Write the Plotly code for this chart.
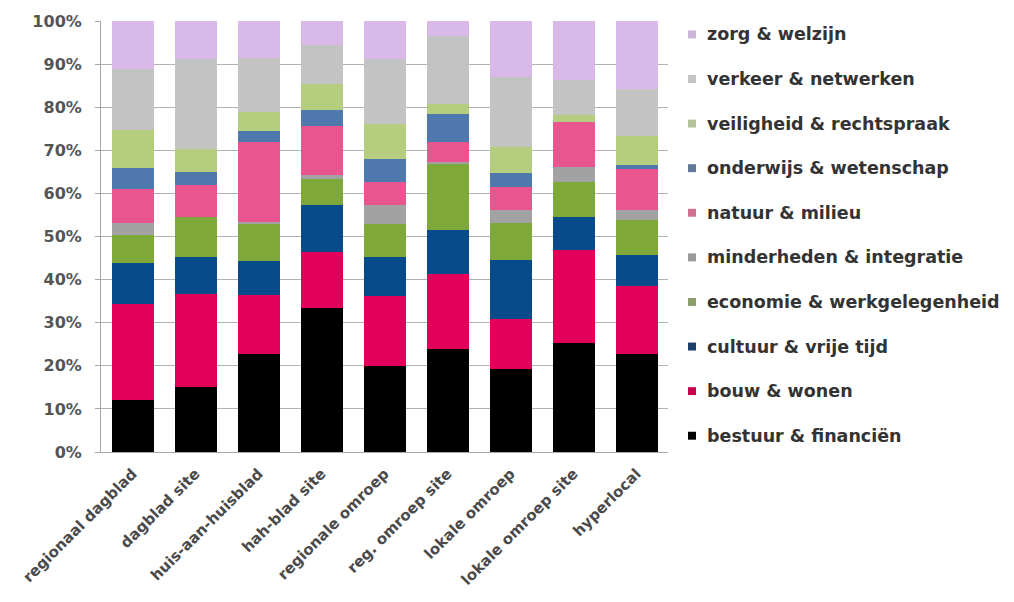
import plotly.graph_objects as go

categories = ["regionaal dagblad", "dagblad site", "huis-aan-huisblad", "hah-blad site",
              "regionale omroep", "reg. omroep site", "lokale omroep", "lokale omroep site", "hyperlocal"]

bestuur = [12.0, 15.0, 22.7, 33.5, 20.0, 23.9, 19.3, 25.4, 22.7]
bouw = [22.3, 21.7, 13.7, 12.9, 16.2, 17.3, 11.5, 21.5, 15.8]
cultuur = [9.6, 8.5, 8.0, 10.9, 9.0, 10.3, 13.8, 7.7, 7.3]
economie = [6.5, 9.4, 8.7, 6.1, 7.6, 15.3, 8.5, 8.1, 8.1]
minderheden = [2.7, 0.0, 0.3, 0.8, 4.5, 0.5, 3.0, 3.4, 2.2]
natuur = [8.0, 7.4, 18.6, 11.4, 5.4, 4.6, 5.4, 10.5, 9.5]
onderwijs = [4.9, 3.0, 2.4, 3.8, 5.2, 6.5, 3.3, 0.0, 0.9]
veiligheid = [8.7, 5.3, 4.4, 5.9, 8.2, 2.3, 5.9, 1.6, 6.9]
verkeer = [14.1, 20.8, 12.7, 9.2, 15.0, 15.8, 16.2, 8.1, 10.8]
zorg = [11.2, 8.9, 8.5, 5.5, 8.9, 3.5, 13.1, 13.7, 15.8]

series_names = ["bestuur & financiën", "bouw & wonen", "cultuur & vrije tijd",
                "economie & werkgelegenheid", "minderheden & integratie", "natuur & milieu",
                "onderwijs & wetenschap", "veiligheid & rechtspraak", "verkeer & netwerken",
                "zorg & welzijn"]
series_values = [bestuur, bouw, cultuur, economie, minderheden, natuur,
                 onderwijs, veiligheid, verkeer, zorg]
colors = ["#000000", "#e3005b", "#084b8a", "#7ea83a", "#a2a2a2", "#e9558f",
          "#4f79ac", "#b4cd7e", "#c3c3c3", "#d8b9e8"]
legend_colors = ["#000000", "#c8004f", "#1d3f6b", "#8c9c6a", "#9a9a9a", "#d0708f",
                 "#62799a", "#b6c39a", "#c4c4c4", "#cbb5da"]

fig = go.Figure()
for name, vals, col in zip(series_names, series_values, colors):
    fig.add_trace(go.Bar(x=categories, y=vals, name=name, marker=dict(color=col, line=dict(width=0)),
                         showlegend=False))

# custom legend (top entry = last series)
L, R, T, B = 101, 346, 18, 150
W, H = 1014 - L - R, 602 - T - B
font_main = "DejaVu Sans"
for i, (name, col) in enumerate(zip(series_names[::-1], legend_colors[::-1])):
    ypix = 31.5 + i * 44.9
    yp = (602 - B - ypix) / H
    xm = (692 - L) / W
    hw = 4 / W
    hh = 4 / H
    fig.add_shape(type="rect", xref="paper", yref="paper",
                  x0=xm - hw, x1=xm + hw, y0=yp - hh, y1=yp + hh,
                  fillcolor=col, line=dict(width=0))
    fig.add_annotation(xref="paper", yref="paper", x=(705 - L) / W, y=yp,
                       text=name, showarrow=False, xanchor="left", yanchor="middle",
                       font=dict(family=font_main, size=17.5, color="#333333", weight="bold"))

fig.update_layout(
    barmode="stack",
    bargap=1/3,
    width=1014, height=602,
    margin=dict(l=L, r=R, t=T, b=B),
    plot_bgcolor="white", paper_bgcolor="white",
    showlegend=False,
    font=dict(family=font_main),
)
fig.update_yaxes(range=[0, 100], dtick=10, ticksuffix="%", showgrid=True, gridcolor="#b3b3b3",
                 gridwidth=1, showline=True, linecolor="#a8a8a8", ticks="outside", ticklen=5,
                 tickcolor="#a8a8a8", zeroline=False, ticklabelstandoff=10,
                 tickfont=dict(family=font_main, size=16, color="#555555", weight="bold"))
fig.update_xaxes(showline=True, linecolor="#a8a8a8", tickangle=-45, ticks="", ticklabelstandoff=6,
                 tickfont=dict(family=font_main, size=15, color="#4a4a4a", weight="bold"))

fig.write_html("out.html", config={"displayModeBar": False},
               post_script="document.body.style.margin='0px';")
